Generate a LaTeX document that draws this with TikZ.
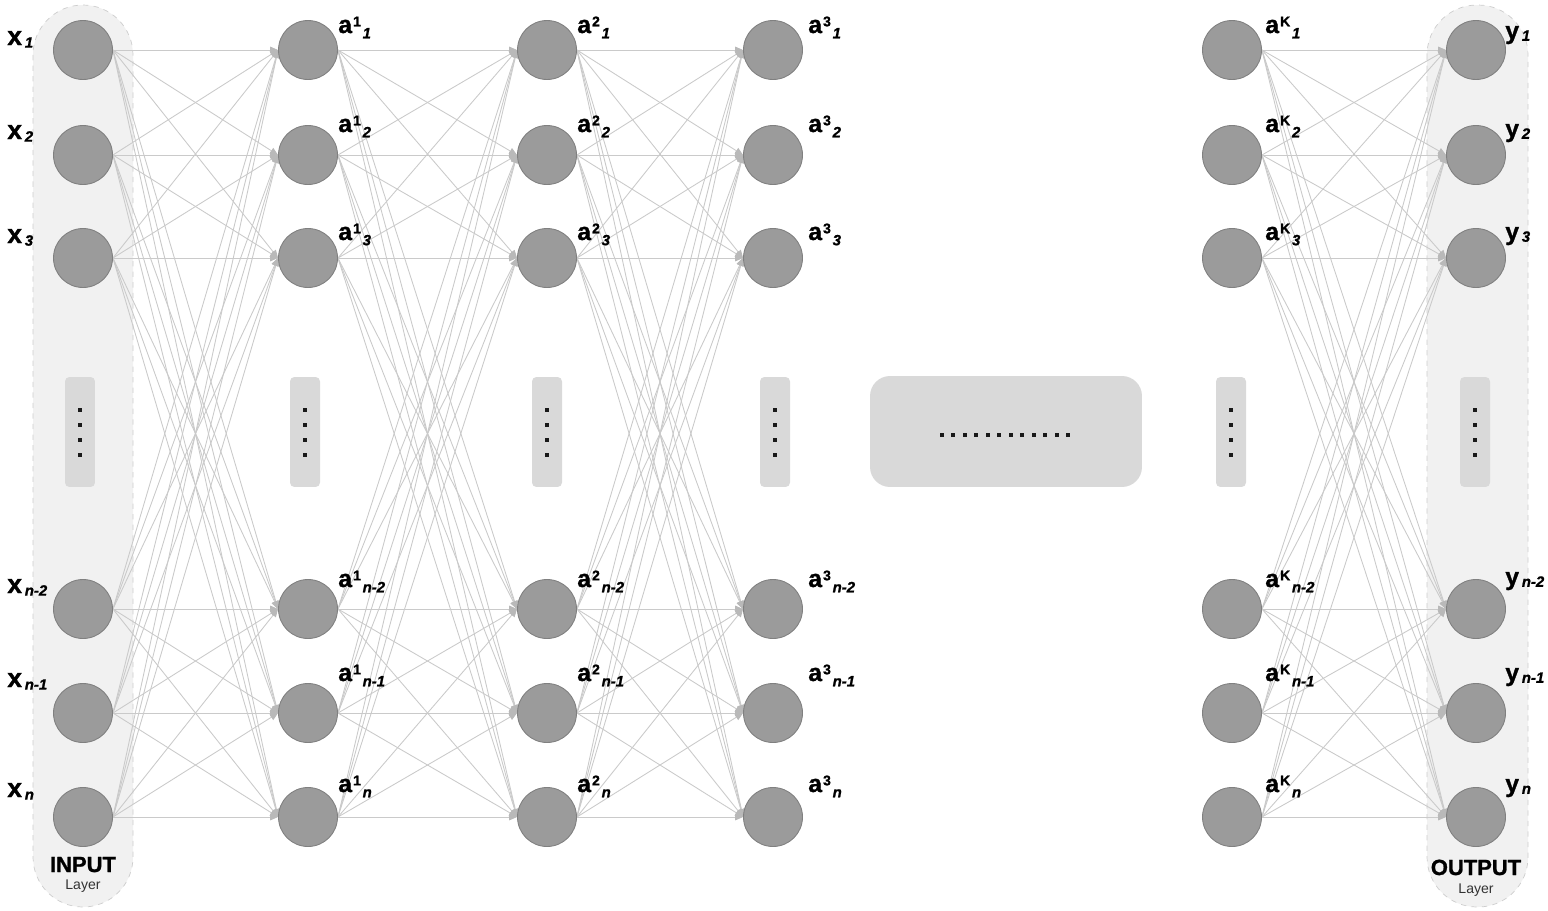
\documentclass[tikz,border=0pt]{standalone}
\usepackage{fontspec}
\setmainfont{Liberation Sans}[BoldFeatures={FakeBold=1.2}, BoldItalicFeatures={FakeBold=1.2}]
\usetikzlibrary{arrows.meta}

\definecolor{neurongray}{RGB}{155,155,155}
\definecolor{neuronedge}{RGB}{128,128,128}
\definecolor{linkgray}{RGB}{202,202,202}
\definecolor{tipgray}{RGB}{185,185,185}
\definecolor{layerfill}{RGB}{241,241,241}
\definecolor{layeredge}{RGB}{205,205,205}
\definecolor{boxgray}{RGB}{217,217,217}
\definecolor{dotblack}{RGB}{25,25,25}

\pgfdeclarelayer{bg}
\pgfdeclarelayer{links}
\pgfsetlayers{bg,links,main}

% neuron label: letter, superscript, subscript
\newcommand{\nlab}[4][3pt]{\fontsize{14}{14}\selectfont\bfseries #2\hspace{0.6pt}\raisebox{3.8pt}{\fontsize{8}{8}\selectfont #3}\hspace{1pt}\raisebox{-#1}{\fontsize{8.5}{8.5}\selectfont\itshape #4}}

\begin{document}
\begin{tikzpicture}[x=0.02cm, y=-0.02cm,
    neuron/.style={circle, minimum size=1.18cm, inner sep=0pt, fill=neurongray, draw=neuronedge, line width=0.5pt},
    link/.style={draw=linkgray, line width=0.5pt, -{Triangle[length=4.5pt, width=3.8pt, color=tipgray]}},
    layerbg/.style={fill=layerfill, draw=layeredge, dashed, line width=0.4pt, rounded corners=1cm},
    dotbox/.style={rectangle, minimum width=0.6cm, minimum height=2.2cm, inner sep=0pt, fill=boxgray, rounded corners=2.5pt},
    dot/.style={rectangle, minimum size=0.08cm, inner sep=0pt, fill=dotblack},
    lbl/.style={anchor=base west, inner sep=0pt},
    ]
    \useasboundingbox (0,0) rectangle (1548,910);

    % layers of neurons
    \foreach \n/\x in {in/83, a1/308, a2/547, a3/773, ak/1232, out/1476}
        \foreach \r/\y in {1/50, 2/155, 3/258, 4/609, 5/713, 6/817}
            \node[neuron] (\n-\r) at (\x,\y) {};

    \begin{pgfonlayer}{bg}
        \draw[layerbg] (33,5) rectangle (133,907);
        \draw[layerbg] (1427,5) rectangle (1528,907);
    \end{pgfonlayer}

    % fully connected
    \begin{pgfonlayer}{links}
        \foreach \s/\t in {in/a1, a1/a2, a2/a3, ak/out}
            \foreach \i in {1,...,6}
                \foreach \j in {1,...,6}
                    \draw[link] (\s-\i.east) -- (\t-\j.west);
    \end{pgfonlayer}

    % dots between the rows
    \foreach \b/\x in {in/80, a1/305, a2/547, a3/775, ak/1231, out/1475} {
        \node[dotbox] (gap-\b) at (\x,432) {};
        \foreach \d in {-22.5,-7.5,7.5,22.5}
            \node[dot] at ([yshift=-\d*0.02cm]gap-\b.center) {};
    }
    \node[dotbox, minimum width=5.44cm, minimum height=2.22cm, rounded corners=0.4cm] (hidden) at (1006,431.5) {};
    \foreach \k in {0,...,11}
        \node[dot] at (942+11.45*\k,435) {};

    % labels
    \foreach \r/\y/\s in {1/45/1, 2/139/2, 3/243/3, 4/593/n-2, 5/687/n-1, 6/797/n}
        \node[lbl] (xl-\r) at (7,\y) {\nlab[1.5pt]{\fontsize{15}{15}\selectfont x}{}{\s}};
    \foreach \r/\y/\s in {1/33/1, 2/132/2, 3/240/3, 4/587/n-2, 5/681/n-1, 6/792/n} {
        \node[lbl] (a1l-\r) at (338,\y) {\nlab{a}{1}{\s}};
        \node[lbl] (a2l-\r) at (577,\y) {\nlab{a}{2}{\s}};
        \node[lbl] (a3l-\r) at (808,\y) {\nlab{a}{3}{\s}};
        \node[lbl] (akl-\r) at (1265,\y) {\nlab{a}{K}{\s}};
    }
    \foreach \r/\y/\s in {1/39/1, 2/137/2, 3/240/3, 4/585/n-2, 5/681/n-1, 6/792/n}
        \node[lbl] (yl-\r) at (1505,\y) {\nlab[1pt]{y}{}{\s}};

    \node[anchor=base, font=\fontsize{12.5}{12.5}\selectfont\bfseries] (inname) at (83,872) {INPUT};
    \node[anchor=base, font=\fontsize{8}{8}\selectfont, text=black!80] (inlayer) at (83,889) {Layer};
    \node[anchor=base, font=\fontsize{12.5}{12.5}\selectfont\bfseries] (outname) at (1476,875) {OUTPUT};
    \node[anchor=base, font=\fontsize{8}{8}\selectfont, text=black!80] (outlayer) at (1476,893) {Layer};
\end{tikzpicture}
\end{document}
